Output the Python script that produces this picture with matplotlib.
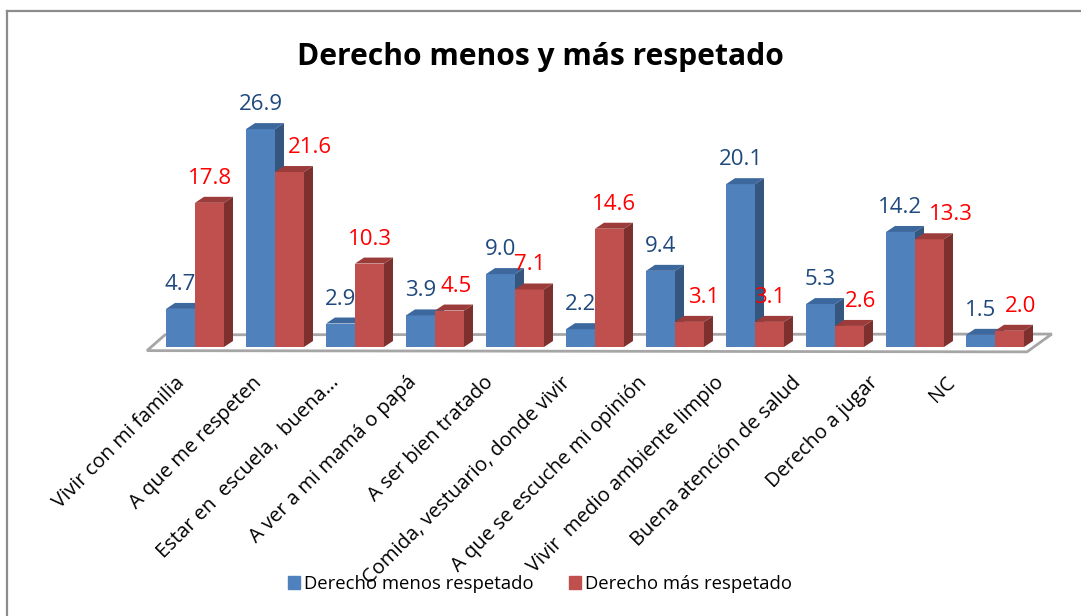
import numpy as np
import matplotlib.pyplot as plt
from matplotlib.patches import Rectangle, Polygon, Patch
from matplotlib.lines import Line2D

# Datos
categorias = ["Vivir con mi familia", "A que me respeten", "Estar en  escuela,  buena...",
              "A ver a mi mamá o papá", "A ser bien tratado", "Comida, vestuario, donde vivir",
              "A que se escuche mi opinión", "Vivir  medio ambiente limpio",
              "Buena atención de salud", "Derecho a jugar", "NC"]
menos_respetado = [4.7, 26.9, 2.9, 3.9, 9.0, 2.2, 9.4, 20.1, 5.3, 14.2, 1.5]
mas_respetado = [17.8, 21.6, 10.3, 4.5, 7.1, 14.6, 3.1, 3.1, 2.6, 13.3, 2.0]
series = ["Derecho menos respetado", "Derecho más respetado"]

# desplazamiento de las etiquetas rojas (en pixeles)
ajuste_rojo = [1, 20, 0, 7, 0, 4, 14, 0, 11, 21, 11]

plt.rcParams['font.family'] = ['Open Sans', 'DejaVu Sans']

W, H = 1081, 616
fig = plt.figure(figsize=(W / 100, H / 100), dpi=100)
ax = fig.add_axes([140 / W, 1 - 370 / H, (1065 - 140) / W, (370 - 60) / H])
ax.set_xlim(-0.6875, 10.875)
ax.set_ylim(-2.84, 35.43)

ancho = 0.3625
dx, dy = 0.1125, 0.74

colores = {
    "azul": ("#4F81BD", "#3D689D", "#34567F"),
    "rojo": ("#C0504D", "#9B3C3A", "#7E302E"),
}

# piso
piso = Polygon([(-0.6, -0.45), (10.4, -0.6), (10.71, 1.6), (-0.375, 1.5)],
               closed=True, facecolor="white", edgecolor="#A6A6A6", lw=2, zorder=1)
ax.add_patch(piso)


def barra(x0, h, cols, z):
    frente, arriba, lado = cols
    ax.add_patch(Rectangle((x0, 0), ancho, h, facecolor=frente, edgecolor="none", zorder=z))
    ax.add_patch(Polygon([(x0, h), (x0 + ancho, h), (x0 + ancho + dx, h + dy), (x0 + dx, h + dy)],
                         closed=True, facecolor=arriba, edgecolor="none", zorder=z))
    ax.add_patch(Polygon([(x0 + ancho, 0), (x0 + ancho + dx, dy), (x0 + ancho + dx, h + dy), (x0 + ancho, h)],
                         closed=True, facecolor=lado, edgecolor="none", zorder=z))


for i in range(len(categorias)):
    z = 2 + i * 2
    barra(i - ancho, menos_respetado[i], colores["azul"], z)
    barra(i, mas_respetado[i], colores["rojo"], z + 1)
    ax.annotate(f"{menos_respetado[i]:.1f}", xy=(i - ancho / 2, menos_respetado[i]),
                xytext=(0, 19), textcoords="offset pixels", ha="center", va="baseline",
                fontsize=16, color="#1F497D", zorder=50)
    ax.annotate(f"{mas_respetado[i]:.1f}", xy=(i + ancho / 2, mas_respetado[i]),
                xytext=(ajuste_rojo[i], 19), textcoords="offset pixels", ha="center", va="baseline",
                fontsize=16, color="#FF0000", zorder=50)

# etiquetas del eje x
pos = np.arange(len(categorias)) * 0.963 - 0.16
ax.set_xticks(pos)
ax.set_xticklabels(categorias, rotation=45, ha="right", va="center", rotation_mode="anchor", fontsize=14.5)
ax.tick_params(axis="x", length=0, pad=7)
ax.set_yticks([])
for s in ax.spines.values():
    s.set_visible(False)

# titulo
fig.text(540 / W, 1 - 65 / H, "Derecho menos y más respetado", ha="center", va="baseline",
         fontsize=21.6, fontweight="bold")

# leyenda
handles = [Patch(color="#4F81BD"), Patch(color="#C0504D")]
fig.legend(handles, series, loc="center", bbox_to_anchor=(540 / W, 1 - 584 / H), ncol=2,
           frameon=False, fontsize=13.3, handlelength=0.65, handleheight=0.65,
           handletextpad=0.2, columnspacing=1.9)

# marco
fig.add_artist(Line2D([7 / W, 7 / W], [0, 1 - 11 / H], color="#8C8C8C", lw=1.6))
fig.add_artist(Line2D([7 / W, 1], [1 - 11 / H, 1 - 11 / H], color="#8C8C8C", lw=1.6))

fig.savefig("out.png", dpi=100)
